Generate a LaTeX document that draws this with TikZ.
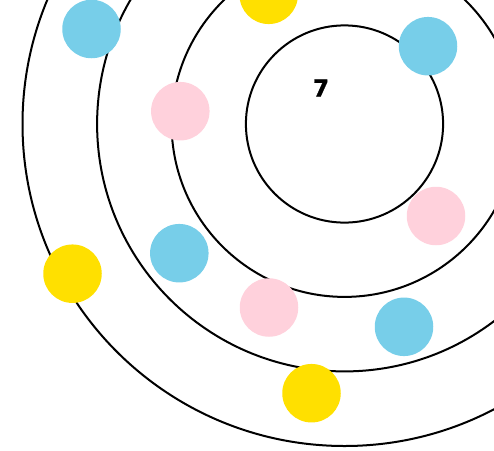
\documentclass[tikz,border=0pt]{standalone}
\usepackage{fontspec}
\setmainfont{DejaVu Sans}
\newfontfamily\heavy{DejaVu Sans Bold}[FakeBold=1.5]
\definecolor{eblue}{HTML}{77CEE9}
\definecolor{epink}{HTML}{FFD1DC}
\definecolor{eyellow}{HTML}{FFE000}
\begin{document}
\begin{tikzpicture}[x=1pt,y=-1pt,
  shell/.style={draw=black,line width=2pt},
  dot/.style={circle,inner sep=0pt,minimum size=58.5pt,draw=none},
  bluedot/.style={dot,fill=eblue},
  pinkdot/.style={dot,fill=epink},
  yellowdot/.style={dot,fill=eyellow}]
\useasboundingbox (0,0) rectangle (494,450);
\begin{scope}
\clip (0,0) rectangle (494,450);
\coordinate (c) at (344.5,124);
\draw[shell] (c) circle[radius=98.6];
\draw[shell] (c) circle[radius=172.9];
\draw[shell] (c) circle[radius=247.4];
\draw[shell] (c) circle[radius=322];
\node[bluedot] (b1) at (91.5,29) {};
\node[yellowdot] (y1) at (268.7,-5.2) {};
\node[bluedot] (b2) at (428,46.2) {};
\node[pinkdot] (p1) at (180.3,111.2) {};
\node[pinkdot] (p2) at (436,216) {};
\node[bluedot] (b3) at (179.3,253.2) {};
\node[yellowdot] (y2) at (72.5,273.7) {};
\node[pinkdot] (p3) at (269,307.5) {};
\node[bluedot] (b4) at (404,326.8) {};
\node[yellowdot] (y3) at (311.5,393.2) {};
\end{scope}
\node[font=\heavy\fontsize{23}{23}\selectfont,inner sep=0pt] (num) at (321,88) {7};
\end{tikzpicture}
\end{document}
